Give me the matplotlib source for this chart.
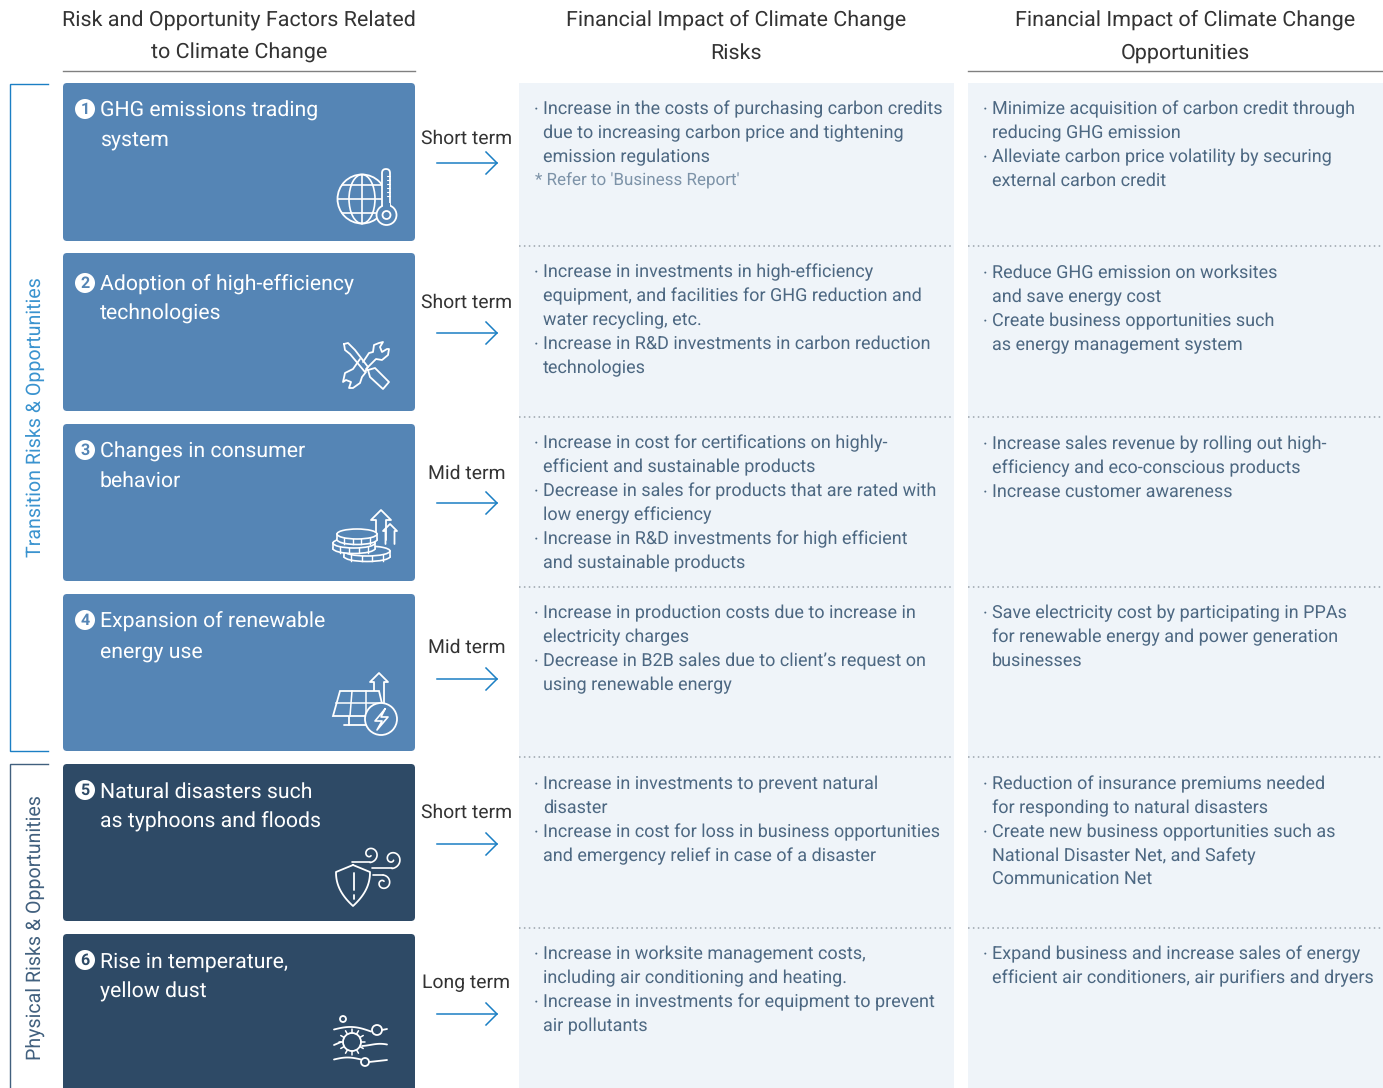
import numpy as np
import matplotlib
matplotlib.use("Agg")
import matplotlib.pyplot as plt
from matplotlib.font_manager import FontProperties
from matplotlib.textpath import TextPath
from matplotlib.patches import FancyBboxPatch, Rectangle, Circle, Ellipse, Polygon

plt.rcParams['text.hinting'] = 'none'

W, H = 1383, 1088
FONT = "Roboto"
BLUE = "#5585b5"
NAVY = "#2e4a66"
PANEL = "#eff4f9"
ARROW = "#1b7fc4"
BODY = "#4d6882"
NOTE = "#7d93a8"

headers = [["Risk and Opportunity Factors Related", "to Climate Change"],
           ["Financial Impact of Climate Change", "Risks"],
           ["Financial Impact of Climate Change", "Opportunities"]]
header_x = [239, 736, 1185]

card_top = [83, 253, 424, 594, 764, 934]
card_bottom = [241, 411, 581, 751, 921, 1100]
card_color = [BLUE, BLUE, BLUE, BLUE, NAVY, NAVY]
card_titles = [["GHG emissions trading", "system"],
               ["Adoption of high-efficiency", "technologies"],
               ["Changes in consumer", "behavior"],
               ["Expansion of renewable", "energy use"],
               ["Natural disasters such", "as typhoons and floods"],
               ["Rise in temperature,", "yellow dust"]]
title_y = [109, 283, 450, 620, 790, 960]
title_gap = [30, 29, 29, 30, 30, 30]

terms = ["Short term", "Short term", "Mid term", "Mid term", "Short term", "Long term"]
term_y = [136, 300, 471, 645, 810, 980]
arrow_y = [163, 333, 503, 679, 844, 1014]
dotted_y = [246, 417, 587, 757, 928]

risk_y = [108, 271, 442, 612, 783, 953]
risk_text = [
    ["· Increase in the costs of purchasing carbon credits",
     "due to increasing carbon price and tightening",
     "emission regulations"],
    ["· Increase in investments in high-efficiency",
     "equipment, and facilities for GHG reduction and",
     "water recycling, etc.",
     "· Increase in R&D investments in carbon reduction",
     "technologies"],
    ["· Increase in cost for certifications on highly-",
     "efficient and sustainable products",
     "· Decrease in sales for products that are rated with",
     "low energy efficiency",
     "· Increase in R&D investments for high efficient",
     "and sustainable products"],
    ["· Increase in production costs due to increase in",
     "electricity charges",
     "· Decrease in B2B sales due to client’s request on",
     "using renewable energy"],
    ["· Increase in investments to prevent natural",
     "disaster",
     "· Increase in cost for loss in business opportunities",
     "and emergency relief in case of a disaster"],
    ["· Increase in worksite management costs,",
     "including air conditioning and heating.",
     "· Increase in investments for equipment to prevent",
     "air pollutants"],
]
opp_y = [108, 272, 443, 612, 783, 953]
opp_text = [
    ["· Minimize acquisition of carbon credit through",
     "reducing GHG emission",
     "· Alleviate carbon price volatility by securing",
     "external carbon credit"],
    ["· Reduce GHG emission on worksites",
     "and save energy cost",
     "· Create business opportunities such",
     "as energy management system"],
    ["· Increase sales revenue by rolling out high-",
     "efficiency and eco-conscious products",
     "· Increase customer awareness"],
    ["· Save electricity cost by participating in PPAs",
     "for renewable energy and power generation",
     "businesses"],
    ["· Reduction of insurance premiums needed",
     "for responding to natural disasters",
     "· Create new business opportunities such as",
     "National Disaster Net, and Safety",
     "Communication Net"],
    ["· Expand business and increase sales of energy",
     "efficient air conditioners, air purifiers and dryers"],
]


def fit_px(s, width_px):
    # pixel size that makes string s come out width_px wide in FONT
    path = TextPath((0, 0), s, size=100, prop=FontProperties(family=FONT))
    box = path.get_extents()
    return 100 * width_px / box.width


HEADER_PX = fit_px("Risk and Opportunity Factors Related", 350)
TITLE_PX = fit_px("GHG emissions trading", 215)
TERM_PX = fit_px("Short term", 89)
BODY_PX = fit_px("Increase in the costs of purchasing carbon credits", 396)
NOTE_PX = fit_px("* Refer to 'Business Report'", 204)
SIDE_PX = fit_px("Transition Risks & Opportunities", 278)


def px(size):
    return size * 0.72


def put(ax, x, y, s, size, color, **kw):
    ax.text(x, y, s, fontsize=px(size), color=color, family=FONT, va="baseline", **kw)


def stroke(ax, xs, ys, lw=1.3, color="white", z=6):
    ax.plot(xs, ys, color=color, lw=lw, solid_capstyle="round", solid_joinstyle="round", zorder=z)


def ring(ax, x, y, r, fill="none", lw=1.3, z=5):
    ax.add_patch(Circle((x, y), r, fc=fill, ec="white", lw=lw, zorder=z))


def up_arrow(ax, tip_x, tip_y, half, shaft, base_y):
    xs = [tip_x - shaft, tip_x - shaft, tip_x - half, tip_x, tip_x + half, tip_x + shaft, tip_x + shaft]
    ys = [base_y, tip_y + half, tip_y + half, tip_y, tip_y + half, tip_y + half, base_y]
    stroke(ax, xs, ys)


def spiral(ax, cx, cy, r0, r1, a0, a1):
    t = np.radians(np.linspace(a0, a1, 60))
    r = np.linspace(r0, r1, 60)
    stroke(ax, cx + r * np.cos(t), cy + r * np.sin(t), 1.2)


def icon_globe(ax, bg):
    cx, cy, r = 362, 199, 24.5
    ring(ax, cx, cy, r)
    ax.add_patch(Ellipse((cx, cy), 26, 2 * r, fc="none", ec="white", lw=1.2, zorder=5))
    stroke(ax, [cx, cx], [cy - r, cy + r], 1.2)
    stroke(ax, [cx - r, cx + r], [cy, cy], 1.2)
    stroke(ax, [cx - 20, cx + 20], [cy - 14, cy - 14], 1.2)
    stroke(ax, [cx - 20, cx + 20], [cy + 14, cy + 14], 1.2)
    ax.add_patch(FancyBboxPatch((382, 169), 8, 45, boxstyle="round,pad=0,rounding_size=4",
                                fc=bg, ec="white", lw=1.3, zorder=6))
    ring(ax, 386.5, 215, 10, fill=bg, z=7)
    ring(ax, 386.5, 215, 4, fill=bg, z=8)
    ax.add_patch(Rectangle((383, 203), 7, 5, fc=bg, ec="none", zorder=8))
    for y in range(176, 200, 4):
        stroke(ax, [387, 390], [y, y], 0.8, z=8)


def icon_tools(ax, bg):
    # wrench, upper jaw
    stroke(ax, [363, 369, 373, 374, 379, 383, 380, 382, 387, 389, 388, 382, 376, 366],
           [362, 353, 352, 345, 343, 342, 347, 352, 349, 349, 355, 360, 359, 369])
    # wrench, lower jaw
    stroke(ax, [360, 353, 345, 343, 346, 351, 349, 353, 360, 362, 366],
           [359, 369, 373, 382, 380, 382, 388, 388, 383, 377, 372])
    # screwdriver
    stroke(ax, [344, 348, 355, 368, 365, 350, 345, 344],
           [344, 343, 350, 367, 372, 354, 350, 344])
    stroke(ax, [368, 375, 389, 383, 370, 368], [370, 368, 382, 389, 377, 370])


def coin(ax, cx, cy, rx, ry, z, bg):
    thick = 5.5
    ax.add_patch(Ellipse((cx, cy + thick), 2 * rx, 2 * ry, fc=bg, ec="white", lw=1.2, zorder=z))
    ax.add_patch(Rectangle((cx - rx, cy), 2 * rx, thick, fc=bg, ec="none", zorder=z + 0.1))
    ax.plot([cx - rx, cx - rx], [cy, cy + thick], color="white", lw=1.2, zorder=z + 0.2)
    ax.plot([cx + rx, cx + rx], [cy, cy + thick], color="white", lw=1.2, zorder=z + 0.2)
    for dx in np.linspace(-rx + 7, rx - 7, 4):
        ax.plot([cx + dx, cx + dx], [cy + ry - 1, cy + ry + thick - 1], color="white", lw=1, zorder=z + 0.2)
    ax.add_patch(Ellipse((cx, cy), 2 * rx, 2 * ry, fc=bg, ec="white", lw=1.2, zorder=z + 0.3))


def icon_coins(ax, bg):
    up_arrow(ax, 381, 510, 10, 5, 540)
    up_arrow(ax, 390, 524, 7, 4.5, 544)
    coin(ax, 367, 551, 23, 5, 7, bg)
    coin(ax, 354, 543, 21, 5, 8, bg)
    coin(ax, 357, 534, 20, 5, 9, bg)


def icon_solar(ax, bg):
    up_arrow(ax, 379, 673, 9, 5, 706)
    ax.add_patch(Polygon([(340, 691), (379, 691), (385, 716), (333, 716)], fc=bg, ec="white", lw=1.3, zorder=6.5))
    ax.plot([335.5, 382], [703, 703], color="white", lw=1.1, zorder=6.6)
    for a, b in [(352, 350), (366, 366)]:
        ax.plot([a, b], [691, 716], color="white", lw=1.1, zorder=6.6)
    stroke(ax, [349, 349], [716, 725])
    stroke(ax, [344, 366], [725, 725])
    ring(ax, 381, 719, 16, fill=bg, z=7)
    ax.plot([385, 375, 382, 377, 388, 381, 385], [709, 721, 721, 730, 717, 717, 709],
            color="white", lw=1.2, zorder=8)


def icon_shield(ax, bg):
    t = np.linspace(0, 1, 20)
    left_x = 336 + 17 * t ** 2.2
    left_y = 872 + 34 * t
    xs = np.concatenate([[353], left_x, (2 * 353 - left_x)[::-1], [353]])
    ys = np.concatenate([[865], left_y, left_y[::-1], [865]])
    ax.plot(xs, ys, color="white", lw=1.3, zorder=6)
    stroke(ax, [353.5, 353.5], [873, 890])
    stroke(ax, [353.5, 353.5], [895, 899])
    stroke(ax, [352, 370], [862, 862], 1.2)
    spiral(ax, 370, 854, 8.5, 2, 90, -300)
    stroke(ax, [372, 392], [868, 868], 1.2)
    spiral(ax, 392, 859, 9.5, 2, 90, -320)
    stroke(ax, [373, 383], [875, 875], 1.2)
    spiral(ax, 383, 883, 8, 2, -90, 300)


def icon_dust(ax, bg):
    ring(ax, 343, 1019, 3)
    t = np.linspace(0, 1, 30)
    stroke(ax, 334 + 37 * t, 1029.5 - 3.5 * np.sin(np.pi * t) + 2 * t)
    ring(ax, 377, 1030, 5)
    stroke(ax, [382, 387], [1030, 1029])
    ring(ax, 352, 1042, 9)
    for a in np.radians(np.arange(0, 360, 30)):
        stroke(ax, 352 + np.array([9, 13]) * np.cos(a), 1042 + np.array([9, 13]) * np.sin(a), 1.1)
    stroke(ax, [334, 341], [1045, 1042])
    stroke(ax, 362 + 25 * t, 1046 - 2 * np.sin(np.pi * t) * t - 1.5 * t)
    stroke(ax, 334 + 27 * t, 1059.5 - 2 * np.sin(np.pi * t))
    ring(ax, 365, 1062, 4)
    stroke(ax, 369 + 18 * t, 1062 - 2 * t)


icons = [icon_globe, icon_tools, icon_coins, icon_solar, icon_shield, icon_dust]

fig = plt.figure(figsize=(W / 100, H / 100), dpi=100)
ax = fig.add_axes([0, 0, 1, 1])
ax.set_xlim(0, W)
ax.set_ylim(H, 0)
ax.axis("off")

# headers
for x, lines in zip(header_x, headers):
    put(ax, x, 27, lines[0], HEADER_PX, "#333333", ha="center")
    put(ax, x, 59, lines[1], HEADER_PX, "#333333", ha="center")
ax.plot([63, 415], [71, 71], color="#808080", lw=1)
ax.plot([968, 1383], [71, 71], color="#808080", lw=1)

# side brackets
ax.plot([48, 10, 10, 48], [84, 84, 751, 751], color=ARROW, lw=1, solid_joinstyle="miter")
ax.plot([48, 10, 10], [764, 764, 1090], color="#41607e", lw=1, solid_joinstyle="miter")
ax.text(35, 417, "Transition Risks & Opportunities", rotation=90, ha="center", va="center",
        fontsize=px(SIDE_PX), color="#3a93cf", family=FONT)
ax.text(35, 928, "Physical Risks & Opportunities", rotation=90, ha="center", va="center",
        fontsize=px(SIDE_PX), color="#41607e", family=FONT)

# background panels
for x0, x1 in [(519, 954), (968, 1383)]:
    ax.add_patch(Rectangle((x0, 83), x1 - x0, H - 83, fc=PANEL, ec="none", zorder=1))
    for y in dotted_y:
        ax.plot([x0, x1], [y, y], color="#9aa3ab", lw=1.1, dashes=(1, 2.2), zorder=2)

# cards
for i in range(6):
    top, bottom = card_top[i], card_bottom[i]
    ax.add_patch(FancyBboxPatch((63, top), 352, bottom - top, boxstyle="round,pad=0,rounding_size=4",
                                fc=card_color[i], ec="none", zorder=2))
    ax.add_patch(Circle((85, title_y[i]), 10, fc="white", ec="none", zorder=3))
    ax.text(85, title_y[i] + 0.5, str(i + 1), fontsize=px(16), color=card_color[i], family=FONT,
            fontweight="bold", ha="center", va="center", zorder=4)
    put(ax, 100, title_y[i] + 8, card_titles[i][0], TITLE_PX, "white", zorder=4)
    put(ax, 100, title_y[i] + 8 + title_gap[i], card_titles[i][1], TITLE_PX, "white", zorder=4)
    icons[i](ax, card_color[i])

    put(ax, 466.5, term_y[i] + 8, terms[i], TERM_PX, "#333333", ha="center")
    ay = arrow_y[i]
    ax.plot([437, 497], [ay, ay], color=ARROW, lw=1.1)
    ax.plot([486, 497, 486], [ay - 11, ay, ay + 11], color=ARROW, lw=1.1, solid_joinstyle="miter")

# body text
for col_x, ys, rows in [(543, risk_y, risk_text), (992, opp_y, opp_text)]:
    for y0, lines in zip(ys, rows):
        for j, line in enumerate(lines):
            y = y0 + 6 + 24 * j
            if line.startswith("· "):
                put(ax, col_x - 9, y, "·", BODY_PX, BODY, zorder=3)
                line = line[2:]
            put(ax, col_x, y, line, BODY_PX, BODY, zorder=3)
put(ax, 535, 186, "* Refer to 'Business Report'", NOTE_PX, NOTE, zorder=3)

fig.savefig("out.png", dpi=100)
